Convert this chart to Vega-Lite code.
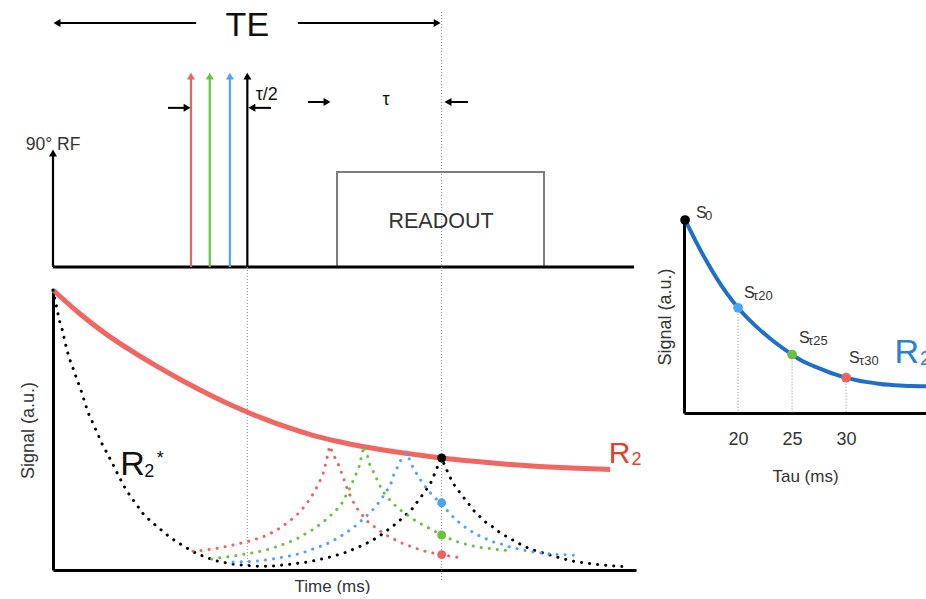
{
  "$schema": "https://vega.github.io/schema/vega-lite/v6.json",
  "background": "white",
  "padding": {"left": 19, "top": 0, "right": 0, "bottom": 0},
  "autosize": {"type": "pad"},
  "config": {"view": {"stroke": null}, "font": "Liberation Sans"},
  "bounds": "full",
  "spacing": 14,
  "resolve": {"scale": {"x": "independent", "y": "independent", "color": "independent", "shape": "independent"}},
  "hconcat": [
    {
      "bounds": "flush",
      "spacing": 23,
      "resolve": {"scale": {"x": "independent", "y": "independent", "color": "independent", "shape": "independent"}},
      "vconcat": [
        {
          "width": 583,
          "height": 267,
          "encoding": {
            "x": {"field": "t", "type": "quantitative", "scale": {"domain": [0, 90], "nice": false, "zero": false}, "axis": null},
            "y": {"field": "v", "type": "quantitative", "scale": {"domain": [0, 1], "nice": false, "zero": false}, "axis": null}
          },
          "layer": [
            {
              "data": {"values": [{"t": 60, "v": 0.955}]},
              "mark": {"type": "rule", "stroke": "#8a8a8a", "strokeWidth": 1, "strokeDash": [1, 2]},
              "encoding": {"y2": {"datum": 0}}
            },
            {
              "data": {"values": [{"t": 43.84, "t2": 75.8, "v": 0, "v2": 0.356}]},
              "mark": {"type": "rect", "fillOpacity": 0, "stroke": "#7d7d7d", "strokeWidth": 2},
              "encoding": {"x2": {"field": "t2"}, "y2": {"field": "v2"}}
            },
            {
              "data": {"values": [{"t": 0, "t2": 89.7, "v": 0}]},
              "mark": {"type": "rule", "stroke": "#000000", "strokeWidth": 3},
              "encoding": {"x2": {"field": "t2"}}
            },
            {
              "data": {"values": [
                {"t": 0, "v": 0.427, "p": "rf"},
                {"t": 21.3, "v": 0.715, "p": "red"},
                {"t": 24.2, "v": 0.715, "p": "green"},
                {"t": 27.3, "v": 0.715, "p": "blue"},
                {"t": 30, "v": 0.715, "p": "black"}
              ]},
              "mark": {"type": "rule", "strokeWidth": 2.2},
              "encoding": {
                "y2": {"datum": 0},
                "color": {"field": "p", "type": "nominal", "legend": null,
                  "scale": {"domain": ["rf", "red", "green", "blue", "black"], "range": ["#000000", "#f0625d", "#6cbf45", "#4da3f5", "#000000"]}}
              }
            },
            {
              "data": {"values": [
                {"t": 0, "v": 0.427, "p": "rf", "d": "up"},
                {"t": 21.3, "v": 0.715, "p": "red", "d": "up"},
                {"t": 24.2, "v": 0.715, "p": "green", "d": "up"},
                {"t": 27.3, "v": 0.715, "p": "blue", "d": "up"},
                {"t": 30, "v": 0.715, "p": "black", "d": "up"},
                {"t": 0.62, "v": 0.914, "p": "black", "d": "left"},
                {"t": 59.3, "v": 0.914, "p": "black", "d": "right"},
                {"t": 20.7, "v": 0.596, "p": "black", "d": "right"},
                {"t": 30.7, "v": 0.596, "p": "black", "d": "left"},
                {"t": 42.3, "v": 0.618, "p": "black", "d": "right"},
                {"t": 60.98, "v": 0.618, "p": "black", "d": "left"}
              ]},
              "mark": {"type": "point", "filled": true, "opacity": 1, "size": 64, "strokeWidth": 0},
              "encoding": {
                "shape": {"field": "d", "type": "nominal", "legend": null,
                  "scale": {"domain": ["up", "left", "right"], "range": ["triangle-up", "triangle-left", "triangle-right"]}},
                "color": {"field": "p", "type": "nominal", "legend": null,
                  "scale": {"domain": ["rf", "red", "green", "blue", "black"], "range": ["#000000", "#f0625d", "#6cbf45", "#4da3f5", "#000000"]}}
              }
            },
            {
              "data": {"values": [
                {"t": 0.62, "t2": 22.1, "v": 0.914},
                {"t": 37.8, "t2": 59.3, "v": 0.914},
                {"t": 17.75, "t2": 20.7, "v": 0.596},
                {"t": 30.7, "t2": 33.65, "v": 0.596},
                {"t": 39.36, "t2": 42.3, "v": 0.618},
                {"t": 60.98, "t2": 64.06, "v": 0.618}
              ]},
              "mark": {"type": "rule", "stroke": "#000000", "strokeWidth": 2},
              "encoding": {"x2": {"field": "t2"}}
            },
            {
              "data": {"values": [{"t": 30, "v": 0.865, "label": "TE"}]},
              "mark": {"type": "text", "fontSize": 34, "align": "center", "baseline": "alphabetic", "color": "#111111"},
              "encoding": {"text": {"field": "label"}}
            },
            {
              "data": {"values": [{"t": 33.0, "v": 0.625, "label": "τ/2"}, {"t": 51.4, "v": 0.607, "label": "τ"}]},
              "mark": {"type": "text", "fontSize": 18, "align": "center", "baseline": "alphabetic", "color": "#111111"},
              "encoding": {"text": {"field": "label"}}
            },
            {
              "data": {"values": [{"t": 0, "v": 0.438, "label": "90° RF"}]},
              "mark": {"type": "text", "fontSize": 17.5, "align": "center", "baseline": "alphabetic", "color": "#333333"},
              "encoding": {"text": {"field": "label"}}
            },
            {
              "data": {"values": [{"t": 59.9, "v": 0.146, "label": "READOUT"}]},
              "mark": {"type": "text", "fontSize": 21.5, "align": "center", "baseline": "alphabetic", "color": "#333333"},
              "encoding": {"text": {"field": "label"}}
            }
          ]
        },
        {
          "width": 583,
          "height": 280,
          "encoding": {
            "x": {"field": "t", "type": "quantitative", "scale": {"domain": [0, 90], "nice": false, "zero": false},
              "axis": {"title": "Time (ms)", "labels": false, "ticks": false, "grid": false, "domainColor": "#000000", "domainWidth": 3,
                "titleFontSize": 17, "titleFontWeight": "normal", "titleColor": "#333333", "titlePadding": 8, "titleX": 279}},
            "y": {"field": "s", "type": "quantitative", "scale": {"domain": [0, 1], "nice": false, "zero": false},
              "axis": {"title": "Signal (a.u.)", "labels": false, "ticks": false, "grid": false, "domainColor": "#000000", "domainWidth": 3,
                "titleFontSize": 18, "titleFontWeight": "normal", "titleColor": "#333333", "titlePadding": 16}}
          },
          "layer": [
            {
              "data": {"values": [{"t": 60, "s": 1.082, "s2": -0.036}, {"t": 30, "s": 1.082, "s2": 0.01}]},
              "mark": {"type": "rule", "stroke": "#8a8a8a", "strokeWidth": 1, "strokeDash": [1, 2]},
              "encoding": {"y2": {"field": "s2"}}
            },
            {
              "data": {"values": [
                {"t": 0, "s": 1.0}, {"t": 4, "s": 0.918}, {"t": 8, "s": 0.846}, {"t": 12, "s": 0.784}, {"t": 16, "s": 0.728},
                {"t": 20, "s": 0.676}, {"t": 24, "s": 0.628}, {"t": 28, "s": 0.584}, {"t": 32, "s": 0.545}, {"t": 36, "s": 0.511},
                {"t": 40, "s": 0.482}, {"t": 44, "s": 0.459}, {"t": 48, "s": 0.44}, {"t": 52, "s": 0.425}, {"t": 56, "s": 0.412},
                {"t": 60, "s": 0.4}, {"t": 65, "s": 0.388}, {"t": 70, "s": 0.378}, {"t": 75, "s": 0.37}, {"t": 80, "s": 0.364}, {"t": 86, "s": 0.359}
              ]},
              "mark": {"type": "line", "stroke": "#ef5550", "strokeWidth": 5, "opacity": 0.9, "interpolate": "monotone"}
            },
            {
              "data": {"values": [
                {"e": "black", "t": 0, "s": 1.0}, {"e": "black", "t": 0.5, "s": 0.945}, {"e": "black", "t": 1, "s": 0.89}, {"e": "black", "t": 1.5, "s": 0.852},
                {"e": "black", "t": 2, "s": 0.8}, {"e": "black", "t": 2.5, "s": 0.757}, {"e": "black", "t": 3.1, "s": 0.72}, {"e": "black", "t": 3.7, "s": 0.68},
                {"e": "black", "t": 4.3, "s": 0.643}, {"e": "black", "t": 4.8, "s": 0.607}, {"e": "black", "t": 5.4, "s": 0.563}, {"e": "black", "t": 6.2, "s": 0.522},
                {"e": "black", "t": 6.9, "s": 0.487}, {"e": "black", "t": 7.4, "s": 0.458}, {"e": "black", "t": 8.5, "s": 0.411}, {"e": "black", "t": 9.3, "s": 0.375},
                {"e": "black", "t": 10, "s": 0.342}, {"e": "black", "t": 11, "s": 0.298}, {"e": "black", "t": 12, "s": 0.262}, {"e": "black", "t": 13.1, "s": 0.227},
                {"e": "black", "t": 14, "s": 0.198}, {"e": "black", "t": 15.4, "s": 0.168}, {"e": "black", "t": 16.7, "s": 0.143}, {"e": "black", "t": 18.2, "s": 0.114},
                {"e": "black", "t": 20.2, "s": 0.085}, {"e": "black", "t": 21.6, "s": 0.066}, {"e": "black", "t": 22.7, "s": 0.054}, {"e": "black", "t": 23.9, "s": 0.043},
                {"e": "black", "t": 25.2, "s": 0.033}, {"e": "black", "t": 26.4, "s": 0.027}, {"e": "black", "t": 27.8, "s": 0.021}, {"e": "black", "t": 29, "s": 0.018},
                {"e": "black", "t": 31.2, "s": 0.014}, {"e": "black", "t": 32.6, "s": 0.013}, {"e": "black", "t": 33.8, "s": 0.014}, {"e": "black", "t": 35.1, "s": 0.017},
                {"e": "black", "t": 36.4, "s": 0.02}, {"e": "black", "t": 37.7, "s": 0.024}, {"e": "black", "t": 39.1, "s": 0.028}, {"e": "black", "t": 40.3, "s": 0.033},
                {"e": "black", "t": 41.6, "s": 0.04}, {"e": "black", "t": 42.9, "s": 0.047}, {"e": "black", "t": 44.1, "s": 0.055}, {"e": "black", "t": 45.5, "s": 0.065},
                {"e": "black", "t": 46.6, "s": 0.077}, {"e": "black", "t": 47.9, "s": 0.089}, {"e": "black", "t": 49.1, "s": 0.104}, {"e": "black", "t": 50.2, "s": 0.118},
                {"e": "black", "t": 51.1, "s": 0.133}, {"e": "black", "t": 52.2, "s": 0.152}, {"e": "black", "t": 53.3, "s": 0.172}, {"e": "black", "t": 54.2, "s": 0.192},
                {"e": "black", "t": 55.3, "s": 0.214}, {"e": "black", "t": 56, "s": 0.236}, {"e": "black", "t": 56.8, "s": 0.261}, {"e": "black", "t": 57.6, "s": 0.286},
                {"e": "black", "t": 58.3, "s": 0.311}, {"e": "black", "t": 58.8, "s": 0.337}, {"e": "black", "t": 59.3, "s": 0.366}, {"e": "black", "t": 60, "s": 0.4},
                {"e": "black", "t": 60.6, "s": 0.366}, {"e": "black", "t": 61.2, "s": 0.337}, {"e": "black", "t": 61.7, "s": 0.311}, {"e": "black", "t": 62.5, "s": 0.286},
                {"e": "black", "t": 63.3, "s": 0.261}, {"e": "black", "t": 64.1, "s": 0.239}, {"e": "black", "t": 64.8, "s": 0.216}, {"e": "black", "t": 65.8, "s": 0.193},
                {"e": "black", "t": 66.8, "s": 0.171}, {"e": "black", "t": 67.9, "s": 0.154}, {"e": "black", "t": 68.8, "s": 0.137}, {"e": "black", "t": 69.9, "s": 0.121},
                {"e": "black", "t": 71.2, "s": 0.104}, {"e": "black", "t": 72.3, "s": 0.09}, {"e": "black", "t": 73.3, "s": 0.079}, {"e": "black", "t": 74.6, "s": 0.068},
                {"e": "black", "t": 75.8, "s": 0.06}, {"e": "black", "t": 77.2, "s": 0.05}, {"e": "black", "t": 78.5, "s": 0.042}, {"e": "black", "t": 79.7, "s": 0.034},
                {"e": "black", "t": 81, "s": 0.029}, {"e": "black", "t": 82.3, "s": 0.025}, {"e": "black", "t": 83.5, "s": 0.021}, {"e": "black", "t": 84.9, "s": 0.018},
                {"e": "black", "t": 86.1, "s": 0.015}, {"e": "black", "t": 87.5, "s": 0.013}, {"e": "black", "t": 88.8, "s": 0.011},

                {"e": "red", "t": 21.6, "s": 0.067}, {"e": "red", "t": 22.1, "s": 0.068}, {"e": "red", "t": 23.3, "s": 0.071}, {"e": "red", "t": 24.7, "s": 0.075},
                {"e": "red", "t": 25.9, "s": 0.08}, {"e": "red", "t": 27.2, "s": 0.086}, {"e": "red", "t": 28.5, "s": 0.093}, {"e": "red", "t": 29.8, "s": 0.1},
                {"e": "red", "t": 31, "s": 0.108}, {"e": "red", "t": 32.4, "s": 0.118}, {"e": "red", "t": 33.5, "s": 0.13}, {"e": "red", "t": 34.7, "s": 0.145},
                {"e": "red", "t": 35.7, "s": 0.161}, {"e": "red", "t": 36.8, "s": 0.18}, {"e": "red", "t": 37.8, "s": 0.2}, {"e": "red", "t": 38.7, "s": 0.224},
                {"e": "red", "t": 39.4, "s": 0.245}, {"e": "red", "t": 40.1, "s": 0.27}, {"e": "red", "t": 40.6, "s": 0.29}, {"e": "red", "t": 41.2, "s": 0.318},
                {"e": "red", "t": 41.7, "s": 0.345}, {"e": "red", "t": 42.1, "s": 0.38}, {"e": "red", "t": 42.4, "s": 0.41}, {"e": "red", "t": 42.7, "s": 0.443},
                {"e": "red", "t": 43.4, "s": 0.407}, {"e": "red", "t": 44, "s": 0.38}, {"e": "red", "t": 44.5, "s": 0.35}, {"e": "red", "t": 45.5, "s": 0.285},
                {"e": "red", "t": 46.3, "s": 0.245}, {"e": "red", "t": 47.1, "s": 0.214}, {"e": "red", "t": 48, "s": 0.189}, {"e": "red", "t": 48.7, "s": 0.17},
                {"e": "red", "t": 49.9, "s": 0.15}, {"e": "red", "t": 50.9, "s": 0.132}, {"e": "red", "t": 52, "s": 0.118}, {"e": "red", "t": 53.3, "s": 0.102},
                {"e": "red", "t": 54.5, "s": 0.09}, {"e": "red", "t": 55.6, "s": 0.081}, {"e": "red", "t": 56.8, "s": 0.071}, {"e": "red", "t": 58, "s": 0.063},
                {"e": "red", "t": 60, "s": 0.055}, {"e": "red", "t": 61.9, "s": 0.047}, {"e": "red", "t": 63.3, "s": 0.043},

                {"e": "green", "t": 24.5, "s": 0.039}, {"e": "green", "t": 25.9, "s": 0.044}, {"e": "green", "t": 27.2, "s": 0.048}, {"e": "green", "t": 28.4, "s": 0.052},
                {"e": "green", "t": 29.7, "s": 0.057}, {"e": "green", "t": 31, "s": 0.062}, {"e": "green", "t": 32.3, "s": 0.068}, {"e": "green", "t": 33.7, "s": 0.077},
                {"e": "green", "t": 34.9, "s": 0.086}, {"e": "green", "t": 36.4, "s": 0.099}, {"e": "green", "t": 37.7, "s": 0.112}, {"e": "green", "t": 38.7, "s": 0.126},
                {"e": "green", "t": 40, "s": 0.143}, {"e": "green", "t": 41.1, "s": 0.161}, {"e": "green", "t": 42.1, "s": 0.179}, {"e": "green", "t": 43.2, "s": 0.202},
                {"e": "green", "t": 44.3, "s": 0.228}, {"e": "green", "t": 44.8, "s": 0.246}, {"e": "green", "t": 45.2, "s": 0.265}, {"e": "green", "t": 46, "s": 0.3},
                {"e": "green", "t": 46.5, "s": 0.329}, {"e": "green", "t": 47.1, "s": 0.357}, {"e": "green", "t": 47.4, "s": 0.382}, {"e": "green", "t": 47.7, "s": 0.414},
                {"e": "green", "t": 48, "s": 0.443}, {"e": "green", "t": 48.5, "s": 0.414}, {"e": "green", "t": 48.8, "s": 0.382}, {"e": "green", "t": 49.4, "s": 0.354},
                {"e": "green", "t": 49.9, "s": 0.329}, {"e": "green", "t": 50.5, "s": 0.3}, {"e": "green", "t": 51.1, "s": 0.275}, {"e": "green", "t": 52, "s": 0.25},
                {"e": "green", "t": 52.9, "s": 0.229}, {"e": "green", "t": 54, "s": 0.207}, {"e": "green", "t": 54.9, "s": 0.193}, {"e": "green", "t": 56, "s": 0.175},
                {"e": "green", "t": 57.1, "s": 0.161}, {"e": "green", "t": 58, "s": 0.15}, {"e": "green", "t": 60, "s": 0.125}, {"e": "green", "t": 61.7, "s": 0.107},
                {"e": "green", "t": 62.9, "s": 0.097}, {"e": "green", "t": 64.2, "s": 0.089}, {"e": "green", "t": 65.6, "s": 0.082}, {"e": "green", "t": 66.8, "s": 0.078},
                {"e": "green", "t": 68.1, "s": 0.075}, {"e": "green", "t": 69.5, "s": 0.071}, {"e": "green", "t": 70.7, "s": 0.068},

                {"e": "blue", "t": 27.8, "s": 0.029}, {"e": "blue", "t": 29, "s": 0.029}, {"e": "blue", "t": 30.3, "s": 0.03}, {"e": "blue", "t": 31.6, "s": 0.032},
                {"e": "blue", "t": 32.9, "s": 0.036}, {"e": "blue", "t": 34.1, "s": 0.04}, {"e": "blue", "t": 35.5, "s": 0.046}, {"e": "blue", "t": 36.7, "s": 0.051},
                {"e": "blue", "t": 38, "s": 0.058}, {"e": "blue", "t": 39.4, "s": 0.068}, {"e": "blue", "t": 40.6, "s": 0.079}, {"e": "blue", "t": 41.8, "s": 0.089},
                {"e": "blue", "t": 42.9, "s": 0.1}, {"e": "blue", "t": 44, "s": 0.115}, {"e": "blue", "t": 45.2, "s": 0.132}, {"e": "blue", "t": 46.3, "s": 0.15},
                {"e": "blue", "t": 47.2, "s": 0.168}, {"e": "blue", "t": 48.2, "s": 0.189}, {"e": "blue", "t": 49.2, "s": 0.211}, {"e": "blue", "t": 50, "s": 0.232},
                {"e": "blue", "t": 50.8, "s": 0.257}, {"e": "blue", "t": 51.5, "s": 0.282}, {"e": "blue", "t": 52.2, "s": 0.311}, {"e": "blue", "t": 52.6, "s": 0.339},
                {"e": "blue", "t": 53.2, "s": 0.368}, {"e": "blue", "t": 53.7, "s": 0.393}, {"e": "blue", "t": 54.1, "s": 0.405}, {"e": "blue", "t": 54.6, "s": 0.418},
                {"e": "blue", "t": 55.6, "s": 0.365}, {"e": "blue", "t": 56.5, "s": 0.33}, {"e": "blue", "t": 57.3, "s": 0.303}, {"e": "blue", "t": 58.2, "s": 0.277},
                {"e": "blue", "t": 59.1, "s": 0.255}, {"e": "blue", "t": 60, "s": 0.235}, {"e": "blue", "t": 61.1, "s": 0.206}, {"e": "blue", "t": 62.3, "s": 0.177},
                {"e": "blue", "t": 63.4, "s": 0.156}, {"e": "blue", "t": 64.6, "s": 0.138}, {"e": "blue", "t": 65.7, "s": 0.123}, {"e": "blue", "t": 66.9, "s": 0.111},
                {"e": "blue", "t": 68, "s": 0.1}, {"e": "blue", "t": 69.3, "s": 0.092}, {"e": "blue", "t": 70.4, "s": 0.083}, {"e": "blue", "t": 71.8, "s": 0.075},
                {"e": "blue", "t": 73, "s": 0.069}, {"e": "blue", "t": 74.3, "s": 0.064}, {"e": "blue", "t": 75.6, "s": 0.06}, {"e": "blue", "t": 76.9, "s": 0.057},
                {"e": "blue", "t": 78, "s": 0.055}, {"e": "blue", "t": 79.5, "s": 0.054}, {"e": "blue", "t": 80.7, "s": 0.052}
              ]},
              "mark": {"type": "line", "strokeWidth": 3, "strokeCap": "round", "strokeDash": [0.1, 8], "interpolate": "linear"},
              "encoding": {
                "color": {"field": "e", "type": "nominal", "legend": null,
                  "scale": {"domain": ["black", "blue", "green", "red"], "range": ["#000000", "#4da3f5", "#6cbf45", "#f0625d"]}}
              }
            },
            {
              "data": {"values": [
                {"e": "black", "t": 60, "s": 0.4}, {"e": "blue", "t": 60, "s": 0.24},
                {"e": "green", "t": 60, "s": 0.125}, {"e": "red", "t": 60, "s": 0.055}
              ]},
              "mark": {"type": "point", "filled": true, "opacity": 1, "size": 80, "strokeWidth": 0},
              "encoding": {
                "color": {"field": "e", "type": "nominal", "legend": null,
                  "scale": {"domain": ["black", "blue", "green", "red"], "range": ["#000000", "#4da3f5", "#6cbf45", "#f0625d"]}}
              }
            },
            {
              "data": {"values": [{"t": 85.8, "s": 0.382, "label": "R"}]},
              "mark": {"type": "text", "fontSize": 30, "align": "left", "baseline": "alphabetic", "color": "#e0402f"},
              "encoding": {"text": {"field": "label"}}
            },
            {
              "data": {"values": [{"t": 89.3, "s": 0.375, "label": "2"}]},
              "mark": {"type": "text", "fontSize": 18, "align": "left", "baseline": "alphabetic", "color": "#e0402f"},
              "encoding": {"text": {"field": "label"}}
            },
            {
              "data": {"values": [{"t": 10.4, "s": 0.339, "label": "R"}]},
              "mark": {"type": "text", "fontSize": 34, "align": "left", "baseline": "alphabetic", "color": "#111111"},
              "encoding": {"text": {"field": "label"}}
            },
            {
              "data": {"values": [{"t": 14.1, "s": 0.332, "label": "2"}, {"t": 16.0, "s": 0.379, "label": "*"}]},
              "mark": {"type": "text", "fontSize": 18, "align": "left", "baseline": "alphabetic", "color": "#111111"},
              "encoding": {"text": {"field": "label"}}
            }
          ]
        }
      ]
    },
    {
      "width": 242,
      "height": 413,
      "encoding": {
        "x": {"field": "tau", "type": "quantitative", "scale": {"domain": [15, 37.4], "nice": false, "zero": false},
          "axis": {"title": "Tau (ms)", "values": [20, 25, 30], "ticks": false, "grid": false, "domainColor": "#000000", "domainWidth": 3,
            "labelFontSize": 18, "labelColor": "#333333", "labelPadding": 17,
            "titleFontSize": 17, "titleFontWeight": "normal", "titleColor": "#333333", "titlePadding": 20}},
        "y": {"field": "s", "type": "quantitative", "scale": {"domain": [0, 1], "range": [413, 220], "nice": false, "zero": false},
          "axis": {"title": "Signal (a.u.)", "labels": false, "ticks": false, "grid": false, "domainColor": "#000000", "domainWidth": 3,
            "titleFontSize": 18, "titleFontWeight": "normal", "titleColor": "#333333", "titlePadding": 10}}
      },
      "layer": [
        {
          "data": {"values": [{"tau": 20, "s": 0.545}, {"tau": 25, "s": 0.303}, {"tau": 30, "s": 0.183}]},
          "mark": {"type": "rule", "stroke": "#8a8a8a", "strokeWidth": 1, "strokeDash": [1, 2]},
          "encoding": {"y2": {"datum": 0}}
        },
        {
          "data": {"values": [
            {"tau": 15.1, "s": 1.0}, {"tau": 16, "s": 0.9}, {"tau": 17, "s": 0.795}, {"tau": 18, "s": 0.7}, {"tau": 19, "s": 0.617},
            {"tau": 20, "s": 0.545}, {"tau": 21, "s": 0.485}, {"tau": 22, "s": 0.432}, {"tau": 23, "s": 0.385}, {"tau": 24, "s": 0.342},
            {"tau": 25, "s": 0.303}, {"tau": 26, "s": 0.268}, {"tau": 27, "s": 0.243}, {"tau": 28, "s": 0.221}, {"tau": 29, "s": 0.2},
            {"tau": 30, "s": 0.183}, {"tau": 31, "s": 0.17}, {"tau": 32, "s": 0.16}, {"tau": 33, "s": 0.152}, {"tau": 34, "s": 0.146},
            {"tau": 35, "s": 0.142}, {"tau": 36, "s": 0.14}, {"tau": 37.4, "s": 0.138}
          ]},
          "mark": {"type": "line", "stroke": "#1e6fcc", "strokeWidth": 4, "interpolate": "monotone", "clip": true}
        },
        {
          "data": {"values": [
            {"e": "black", "tau": 15.1, "s": 1.0}, {"e": "blue", "tau": 20, "s": 0.545},
            {"e": "green", "tau": 25, "s": 0.303}, {"e": "red", "tau": 30, "s": 0.183}
          ]},
          "mark": {"type": "point", "filled": true, "opacity": 1, "size": 95, "strokeWidth": 0},
          "encoding": {
            "color": {"field": "e", "type": "nominal", "legend": null,
              "scale": {"domain": ["black", "blue", "green", "red"], "range": ["#000000", "#4da3f5", "#6cbf45", "#f0625d"]}}
          }
        },
        {
          "data": {"values": [
            {"tau": 16.11, "s": 1.01, "label": "S"}, {"tau": 20.55, "s": 0.596, "label": "S"},
            {"tau": 25.64, "s": 0.363, "label": "S"}, {"tau": 30.27, "s": 0.259, "label": "S"}
          ]},
          "mark": {"type": "text", "fontSize": 16, "align": "left", "baseline": "alphabetic", "color": "#333333"},
          "encoding": {"text": {"field": "label"}}
        },
        {
          "data": {"values": [
            {"tau": 16.95, "s": 1.0, "label": "0"}, {"tau": 21.39, "s": 0.585, "label": "τ20"},
            {"tau": 26.48, "s": 0.352, "label": "τ25"}, {"tau": 31.2, "s": 0.249, "label": "τ30"}
          ]},
          "mark": {"type": "text", "fontSize": 13, "align": "left", "baseline": "alphabetic", "color": "#333333"},
          "encoding": {"text": {"field": "label"}}
        },
        {
          "data": {"values": [{"tau": 34.48, "s": 0.259, "label": "R"}]},
          "mark": {"type": "text", "fontSize": 34, "align": "left", "baseline": "alphabetic", "color": "#2b7fd6"},
          "encoding": {"text": {"field": "label"}}
        },
        {
          "data": {"values": [{"tau": 36.85, "s": 0.249, "label": "2"}]},
          "mark": {"type": "text", "fontSize": 20, "align": "left", "baseline": "alphabetic", "color": "#2b7fd6", "clip": true},
          "encoding": {"text": {"field": "label"}}
        }
      ]
    }
  ]
}
